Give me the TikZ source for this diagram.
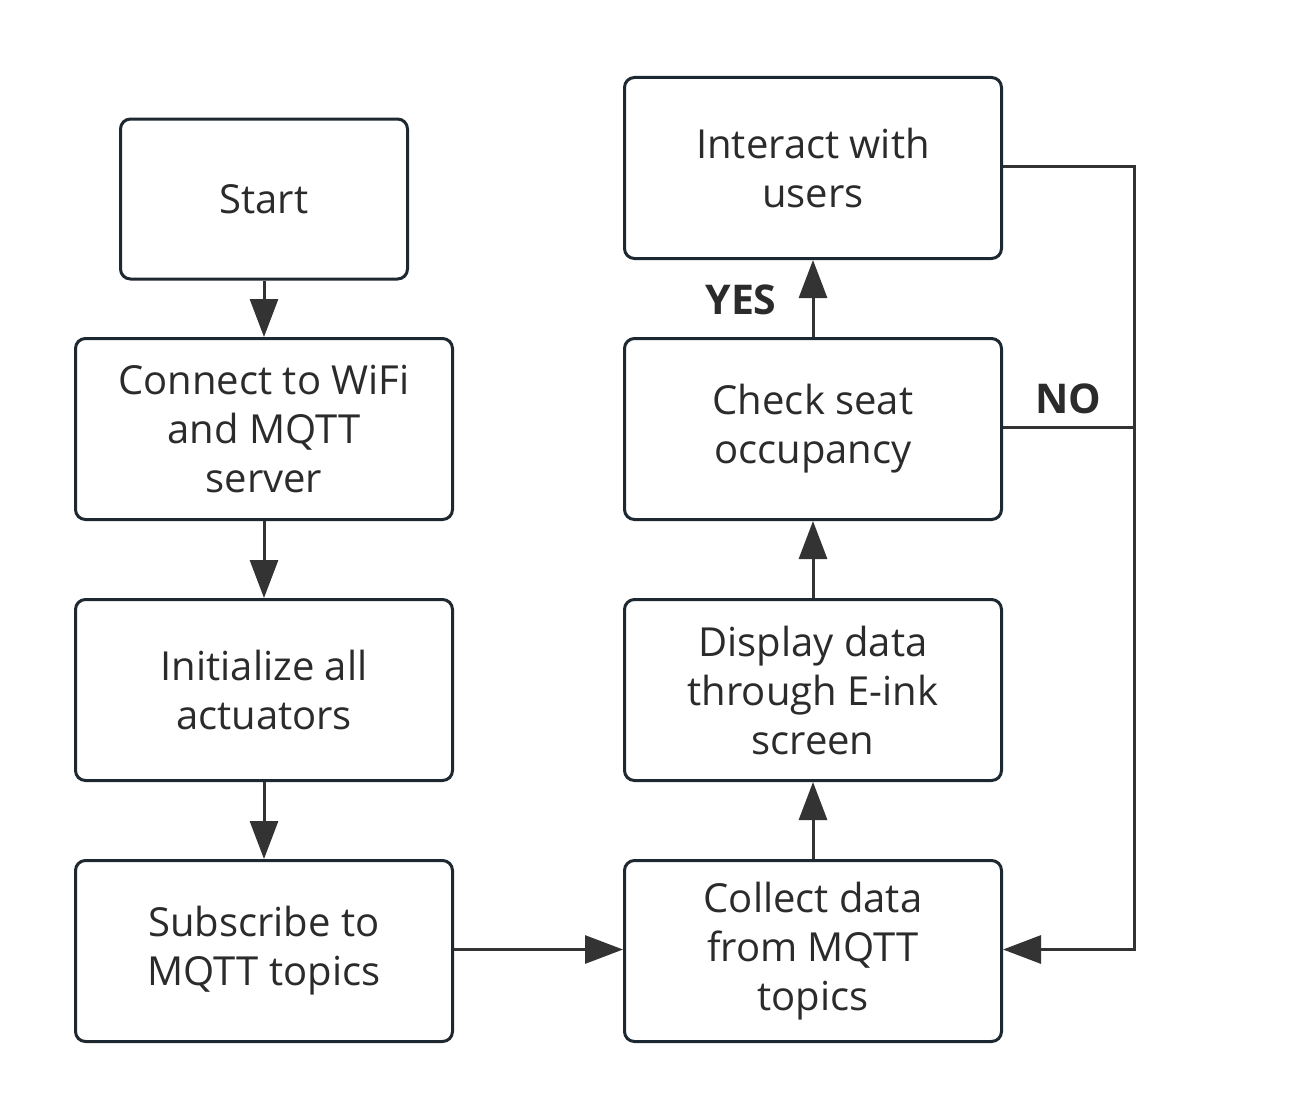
\documentclass[tikz,border=0pt]{standalone}
\usepackage{fontspec}
\setmainfont{Open Sans}
\usetikzlibrary{arrows.meta}
\definecolor{boxline}{HTML}{1E2830}
\definecolor{conn}{HTML}{333333}
\definecolor{txt}{HTML}{2B2B2B}
\begin{document}
\begin{tikzpicture}[x=1pt,y=-1pt,
  box/.style={draw=boxline, line width=3pt, rounded corners=10pt, fill=white,
    minimum width=377pt, minimum height=181pt, inner sep=0pt,
    align=center, text=txt, font=\fontsize{40}{49}\selectfont},
  conn/.style={draw=conn, line width=3pt, -{Triangle[length=38pt,width=28pt]}},
  plain/.style={draw=conn, line width=3pt},
  lbl/.style={text=txt, font=\fontsize{41}{45}\selectfont\bfseries}]
\useasboundingbox (0,0) rectangle (1293,1116);
\node[box, minimum width=287pt, minimum height=160pt] (start) at (264,199) {Start};
\node[box] (connect) at (264,429) {Connect to WiFi\\and MQTT\\server};
\node[box] (init) at (264,690) {Initialize all\\actuators};
\node[box] (sub) at (264,951) {Subscribe to\\MQTT topics};
\node[box] (inter) at (813,168) {Interact with\\users};
\node[box] (check) at (813,429) {Check seat\\occupancy};
\node[box] (disp) at (813,690) {Display data\\through E-ink\\screen};
\node[box] (coll) at (813,951) {Collect data\\from MQTT\\topics};
\coordinate (c1) at (1134,166.5);
\coordinate (c2) at (1134,949.5);
\coordinate (c3) at (1134,427.5);
\draw[conn] (start) -- (connect);
\draw[conn] (connect) -- (init);
\draw[conn] (init) -- (sub);
\draw[conn] (sub.east |- c2) -- (coll.west |- c2);
\draw[conn] (coll) -- (disp);
\draw[conn] (disp) -- (check);
\draw[conn] (check) -- (inter);
\draw[conn] (inter.east |- c1) -- (c1) -- (c2) -- (coll.east |- c2);
\draw[plain] (check.east |- c3) -- (c3);
\node[lbl] (yes) at (741,300) {YES};
\node[lbl] (no) at (1068,399) {NO};
\end{tikzpicture}
\end{document}
